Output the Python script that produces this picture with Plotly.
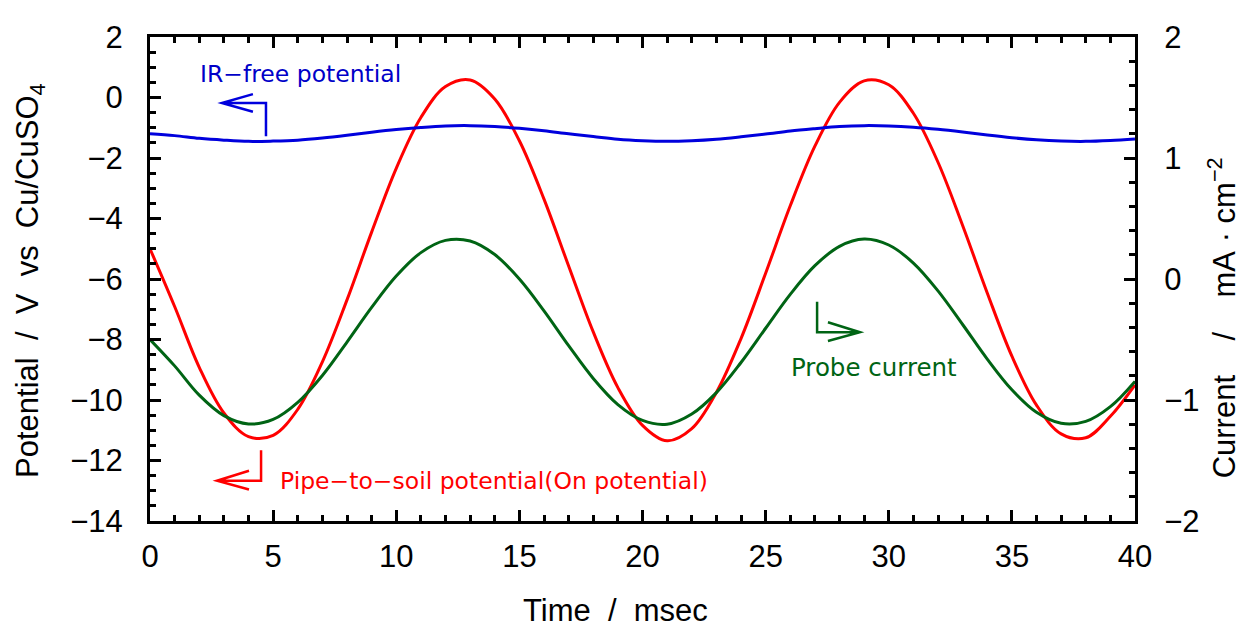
import plotly.graph_objects as go

time_ms = list(range(0, 41))

pipe_to_soil = [-5.0, -6.91, -8.92, -10.43, -11.21, -11.17, -10.31, -8.74, -6.69, -4.45,
                -2.34, -0.66, 0.36, 0.58, -0.05, -1.43, -3.36, -5.57, -7.75, -9.59,
                -10.84, -11.35, -10.95, -9.75, -7.97, -5.81, -3.58, -1.61, -0.16, 0.55,
                0.42, -0.52, -2.14, -4.23, -6.46, -8.55, -10.17, -11.12, -11.25, -10.54,
                -9.5]

ir_free = [-1.20, -1.26, -1.35, -1.41, -1.45, -1.44, -1.41, -1.34, -1.25, -1.15,
           -1.06, -0.99, -0.94, -0.93, -0.96, -1.02, -1.10, -1.20, -1.29, -1.38,
           -1.43, -1.45, -1.43, -1.38, -1.30, -1.21, -1.11, -1.03, -0.96, -0.93,
           -0.94, -0.98, -1.05, -1.14, -1.24, -1.33, -1.40, -1.44, -1.45, -1.42,
           -1.37]

probe_current = [-0.50, -0.718, -0.96, -1.129, -1.198, -1.161, -1.020, -0.797, -0.521, -0.235,
                 0.024, 0.218, 0.319, 0.314, 0.202, 0.0, -0.263, -0.551, -0.822, -1.038,
                 -1.169, -1.20, -1.116, -0.939, -0.690, -0.407, -0.127, 0.110, 0.270, 0.330,
                 0.281, 0.132, -0.098, -0.376, -0.662, -0.916, -1.102, -1.193, -1.177, -1.055,
                 -0.846]

RED = "#ff0000"
BLUE = "#0000dd"
GREEN = "#006414"
SANS = "Liberation Sans, Arial, sans-serif"
TICKFONT = dict(family=SANS, size=31, color="black")
LABFONT = "DejaVu Sans, sans-serif"
SP = "\u00a0 "
SP2 = "\u00a0\u00a0\u00a0 "

fig = go.Figure()
fig.add_trace(go.Scatter(x=time_ms, y=pipe_to_soil, mode="lines", line=dict(color=RED, width=3, shape="spline"),
                         name="Pipe-to-soil potential", yaxis="y"))
fig.add_trace(go.Scatter(x=time_ms, y=ir_free, mode="lines", line=dict(color=BLUE, width=3, shape="spline"),
                         name="IR-free potential", yaxis="y"))
fig.add_trace(go.Scatter(x=time_ms, y=probe_current, mode="lines", line=dict(color=GREEN, width=3, shape="spline"),
                         name="Probe current", yaxis="y2"))

axis_common = dict(showgrid=False, zeroline=False, showline=True, linecolor="black", linewidth=3,
                   ticks="inside", ticklen=11, tickwidth=3, tickcolor="black", tickfont=TICKFONT)

fig.update_layout(
    width=1237, height=629,
    margin=dict(l=142, r=110, t=21, b=116),
    paper_bgcolor="white", plot_bgcolor="white",
    showlegend=False,
    xaxis=dict(range=[0, 40], dtick=5, tick0=0, mirror="ticks", ticklabelstandoff=6,
               minor=dict(dtick=1, ticks="inside", ticklen=6, tickwidth=3, tickcolor="black"),
               **axis_common),
    yaxis=dict(range=[-14, 2], dtick=2, tick0=0, ticklabelstandoff=18,
               minor=dict(dtick=0.5, ticks="inside", ticklen=6, tickwidth=3, tickcolor="black"),
               **axis_common),
    yaxis2=dict(range=[-2, 2], dtick=1, tick0=0, side="right", overlaying="y", ticklabelstandoff=20,
                minor=dict(dtick=0.2, ticks="inside", ticklen=6, tickwidth=3, tickcolor="black"),
                **axis_common),
)

# Axis titles as annotations
fig.add_annotation(text=f"Time{SP}/{SP}msec", xref="paper", yref="paper", x=(615 - 150) / 985, y=-(612 - 521) / 492,
                   showarrow=False, font=dict(family=SANS, size=31, color="black"),
                   xanchor="center", yanchor="middle")
fig.add_annotation(text=f"Potential{SP}/{SP}V{SP}vs{SP}Cu/CuSO<sub>4</sub>", xref="paper", yref="paper",
                   x=-(150 - 30) / 985, y=(521 - 277) / 492, textangle=-90, showarrow=False,
                   font=dict(family=SANS, size=31, color="black"),
                   xanchor="center", yanchor="middle")
fig.add_annotation(text=f"Current{SP2}/{SP2}mA\u00a0·\u00a0cm<sup>−2</sup>", xref="paper", yref="paper",
                   x=(1222 - 150) / 985, y=(521 - 315) / 492, textangle=-90, showarrow=False,
                   font=dict(family=SANS, size=31, color="black"),
                   xanchor="center", yanchor="middle")

# Series labels
fig.add_annotation(text="IR−free potential", x=(198 - 150) / 24.625, y=2 - (67 - 29) / 30.75, xref="x", yref="y",
                   showarrow=False, xanchor="left", yanchor="middle",
                   font=dict(family=LABFONT, size=23.5, color="#0000c8"))
fig.add_annotation(text="Pipe−to−soil potential(On potential)", x=(278 - 150) / 24.625, y=2 - (480 - 29) / 30.75,
                   xref="x", yref="y", showarrow=False, xanchor="left", yanchor="middle",
                   font=dict(family=LABFONT, size=23.5, color=RED))
fig.add_annotation(text="Probe current", x=(874 - 150) / 24.625, y=2 - (365 - 29) / 30.75, xref="x", yref="y",
                   showarrow=False, xanchor="center", yanchor="middle",
                   font=dict(family=LABFONT, size=24.5, color=GREEN))

# Bent arrows (data coordinates)
def bent_arrow(pts, arm1, arm2, color):
    p = "M " + " L ".join(f"{x},{y}" for x, y in pts)
    tip = pts[-1]
    p += f" M {arm1[0]},{arm1[1]} L {tip[0]},{tip[1]} L {arm2[0]},{arm2[1]}"
    fig.add_shape(type="path", path=p, xref="x", yref="y", line=dict(color=color, width=2.5))

bent_arrow([(4.71, -1.28), (4.71, -0.18), (2.92, -0.18)], (4.18, 0.11), (4.18, -0.47), BLUE)
bent_arrow([(4.51, -11.66), (4.51, -12.67), (2.72, -12.67)], (4.02, -12.34), (4.02, -12.96), RED)
bent_arrow([(27.09, -6.75), (27.09, -7.76), (28.83, -7.76)], (27.53, -7.43), (27.53, -8.05), GREEN)

fig.write_html("out.html")
